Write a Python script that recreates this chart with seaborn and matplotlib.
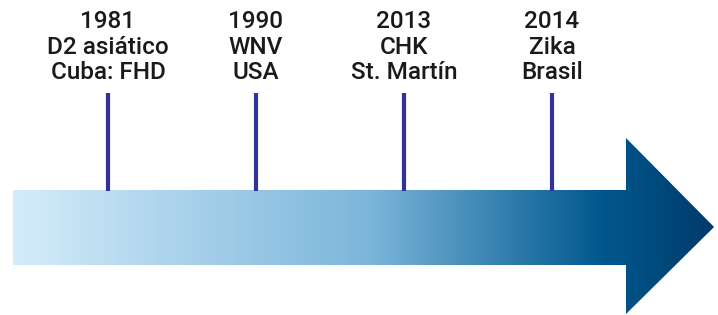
import numpy as np
import matplotlib
matplotlib.use('Agg')
import matplotlib.pyplot as plt
from matplotlib.colors import LinearSegmentedColormap
from matplotlib.patches import Polygon
import seaborn as sns

# ── Data ──────────────────────────────────────────────────────────────────────
years = ['1981', '1990', '2013', '2014']
events = ['D2 asiático', 'WNV', 'CHK', 'Zika']
places = ['Cuba: FHD', 'USA', 'St. Martín', 'Brasil']

# ── Styling ───────────────────────────────────────────────────────────────────
sns.set_theme(style='white')
plt.rcParams['font.family'] = ['Roboto', 'DejaVu Sans']
STEM = '#31339a'
GRAD = ['#d4ecfa', '#7bb5da', '#00588e', '#003b6b']
GRAD_POS = [0.0, 0.51, 0.84, 1.0]

fig = plt.figure(figsize=(7.18, 3.15), dpi=100)
ax = fig.add_axes([0, 0, 1, 1])
# one event per category slot, y in pixel-like units (top = 0)
ax.set_xlim(-0.7297, 4.1216)
ax.set_ylim(315, 0)
ax.axis('off')

pos = np.arange(len(years))

# arrow geometry (category units on x)
x0, x_head, x_tip = -0.642, 3.50, 4.095
body_top, body_bot = 190, 265
head_top, head_bot, mid = 138, 314, 227
arrow = Polygon([(x0, body_top), (x_head, body_top), (x_head, head_top),
                 (x_tip, mid), (x_head, head_bot), (x_head, body_bot),
                 (x0, body_bot)], closed=True, facecolor='none',
                edgecolor='none')
ax.add_patch(arrow)

cmap = LinearSegmentedColormap.from_list('tl', list(zip(GRAD_POS, GRAD)))
grad = np.linspace(0, 1, 512).reshape(1, -1)
im = ax.imshow(grad, cmap=cmap, aspect='auto',
               extent=(x0, x_tip, head_bot, head_top), zorder=1)
im.set_clip_path(arrow)

# stems
ax.vlines(pos, 93, body_top + 1, color=STEM, linewidth=3, zorder=2)

# labels
for p, y, e, pl in zip(pos, years, events, places):
    ax.text(p, 47, f'{y}\n{e}\n{pl}', ha='center', va='center',
            fontsize=17.5, fontweight='medium', color='#1a1a1a',
            linespacing=1.12)

fig.savefig('out.png', dpi=100, facecolor='white')
